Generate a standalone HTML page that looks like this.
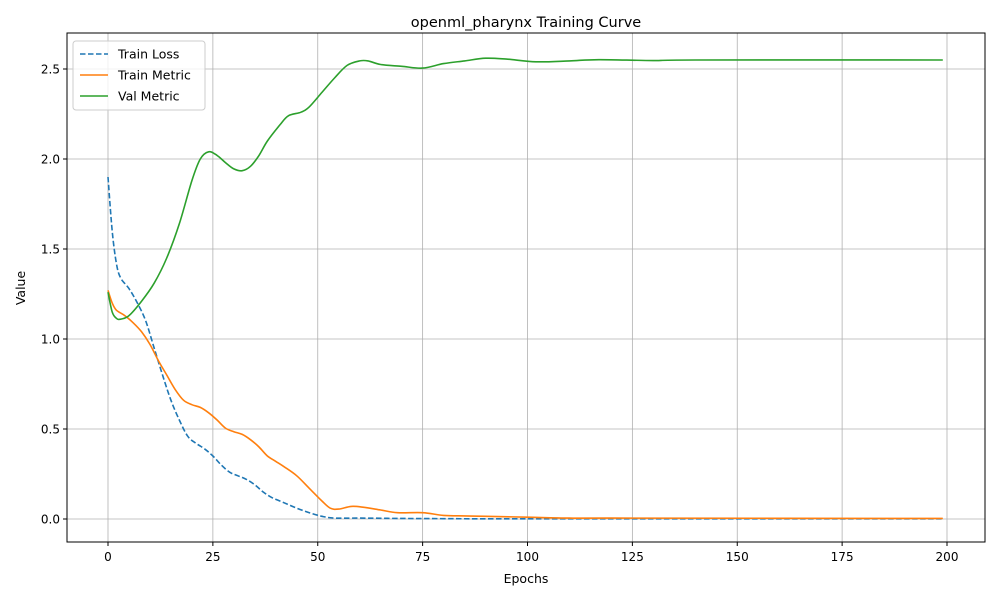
<!DOCTYPE html>
<html><head><meta charset="utf-8"><style>
body{margin:0;background:#fff;font-family:"Liberation Sans","DejaVu Sans",sans-serif}
svg text{font-family:"DejaVu Sans","Liberation Sans",sans-serif}
</style></head><body>
<svg id="chart" width="1000" height="600" xmlns="http://www.w3.org/2000/svg">
<rect width="1000" height="600" fill="#fff"/>
<text x="526" y="27" font-size="14.5" text-anchor="middle" fill="#000">openml_pharynx Training Curve</text>
<g id="grid"></g><g id="axes"></g><g id="series"></g>
<rect x="67" y="33" width="918" height="509" fill="none" stroke="#000" stroke-width="1"/>
<text x="526" y="583" font-size="12.5" text-anchor="middle">Epochs</text>
<text x="25" y="288" font-size="12.5" text-anchor="middle" transform="rotate(-90 25 288)">Value</text>
<g>
<rect x="73" y="41" width="132" height="69" rx="3" fill="#fff" fill-opacity="0.8" stroke="#ccc"/>
<g><line x1="80" y1="54" x2="108" y2="54" stroke="#1f77b4" stroke-width="1.6" stroke-dasharray="5.5,2.5"/><text x="118" y="58.5" font-size="12.5">Train Loss</text></g>
<g><line x1="80" y1="75" x2="108" y2="75" stroke="#ff7f0e" stroke-width="1.6"/><text x="118" y="79.5" font-size="12.5">Train Metric</text></g>
<g><line x1="80" y1="96" x2="108" y2="96" stroke="#2ca02c" stroke-width="1.6"/><text x="118" y="100.5" font-size="12.5">Val Metric</text></g>
</g>
</svg>
<script>
const xTicks=[0,25,50,75,100,125,150,175,200];
const yTicks=[0,0.5,1.0,1.5,2.0,2.5];
const yTickLabels=["0.0","0.5","1.0","1.5","2.0","2.5"];
const lossEpochs=[0,1,2,3,5,7,9,11,13,15,17,19,21,23,25,27,29,31,33,35,37,39,42,45,48,51,54,60,70,80,100,199];
const lossValues=[1.9,1.6,1.42,1.34,1.28,1.2,1.1,0.95,0.8,0.66,0.55,0.46,0.42,0.39,0.35,0.3,0.26,0.24,0.22,0.19,0.15,0.12,0.09,0.06,0.035,0.015,0.005,0.005,0.003,0.002,0.001,0.001];
const trainEpochs=[0,1,2,4,6,8,10,12,14,16,18,20,22,24,26,28,30,32,34,36,38,40,42,45,48,51,53,55,58,61,65,69,75,80,85,90,100,110,120,199];
const trainValues=[1.27,1.2,1.16,1.13,1.09,1.04,0.97,0.88,0.8,0.72,0.66,0.635,0.62,0.59,0.55,0.505,0.485,0.47,0.44,0.4,0.35,0.32,0.29,0.24,0.17,0.1,0.06,0.055,0.07,0.065,0.05,0.035,0.035,0.02,0.017,0.015,0.01,0.005,0.005,0.003];
const valEpochs=[0,1,2,3,5,8,11,14,17,20,22,24,26,28,30,32,34,36,38,41,43,46,48,51,54,57,60,62,65,70,75,80,85,90,95,102,110,117,130,140,199];
const valValues=[1.26,1.15,1.115,1.11,1.13,1.21,1.31,1.45,1.64,1.88,2.0,2.04,2.02,1.98,1.945,1.935,1.96,2.02,2.1,2.19,2.24,2.26,2.29,2.37,2.45,2.52,2.545,2.545,2.525,2.515,2.505,2.53,2.545,2.56,2.555,2.54,2.545,2.552,2.547,2.55,2.55];
const X=v=>108+v*(947-108)/200;
const Y=v=>519-v*180;
const NS="http://www.w3.org/2000/svg";
function mk(tag,attrs,parent){const e=document.createElementNS(NS,tag);for(const k in attrs)e.setAttribute(k,attrs[k]);parent.appendChild(e);return e;}
const grid=document.getElementById('grid'),axes=document.getElementById('axes'),series=document.getElementById('series');
xTicks.forEach(t=>{
 const g=mk('line',{x1:X(t),x2:X(t),y1:33,y2:542,stroke:'#b0b0b0','stroke-width':0.8},grid);
 
 
 mk('line',{x1:X(t),x2:X(t),y1:542,y2:546,stroke:'#000'},axes);
 const tx=mk('text',{x:X(t),y:561,'font-size':12,'text-anchor':'middle'},axes);tx.textContent=t;
 
 
});
yTicks.forEach((t,i)=>{
 const g=mk('line',{x1:67,x2:985,y1:Y(t),y2:Y(t),stroke:'#b0b0b0','stroke-width':0.8},grid);
 
 
 mk('line',{x1:63,x2:67,y1:Y(t),y2:Y(t),stroke:'#000'},axes);
 const tx=mk('text',{x:60,y:Y(t)+4.5,'font-size':12,'text-anchor':'end'},axes);tx.textContent=yTickLabels[i];
 
 
});
function path(xs,ys){
 const p=xs.map((x,i)=>[X(x),Y(ys[i])]);
 let d='M'+p[0][0]+','+p[0][1];
 for(let i=0;i<p.length-1;i++){
  const p0=p[Math.max(0,i-1)],p1=p[i],p2=p[i+1],p3=p[Math.min(p.length-1,i+2)];
  const c1=[p1[0]+(p2[0]-p0[0])/6,p1[1]+(p2[1]-p0[1])/6];
  const c2=[p2[0]-(p3[0]-p1[0])/6,p2[1]-(p3[1]-p1[1])/6];
  d+=`C${c1[0]},${c1[1]} ${c2[0]},${c2[1]} ${p2[0]},${p2[1]}`;
 }
 return d;
}
const l1=mk('path',{d:path(lossEpochs,lossValues),fill:'none',stroke:'#1f77b4','stroke-width':1.6,'stroke-dasharray':'5.5,2.5'},series);


const l2=mk('path',{d:path(trainEpochs,trainValues),fill:'none',stroke:'#ff7f0e','stroke-width':1.6},series);


const l3=mk('path',{d:path(valEpochs,valValues),fill:'none',stroke:'#2ca02c','stroke-width':1.6},series);


</script>
</body></html>
